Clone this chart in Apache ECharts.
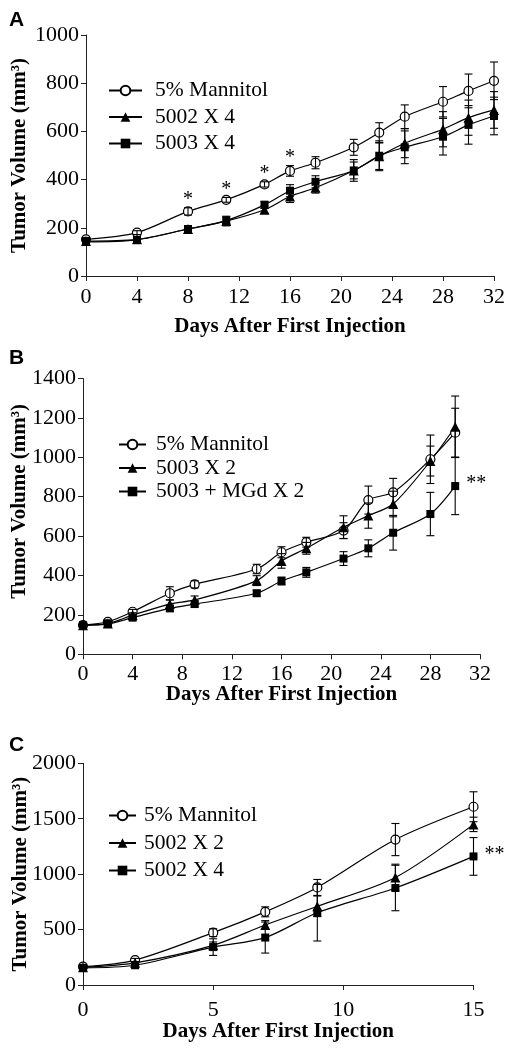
<!DOCTYPE html>
<html>
<head>
<meta charset="utf-8">
<script src="https://cdn.jsdelivr.net/npm/echarts@6/dist/echarts.min.js"></script>
<style>html,body{margin:0;padding:0;background:#fff;}#c{width:514px;height:1050px;}</style>
</head>
<body>
<div id="c"></div>
<script>
// ---------- Panel A ----------
const daysA = [0, 4, 8, 11, 14, 16, 18, 21, 23, 25, 28, 30, 32];
const mannitolA = [152, 180, 268, 316, 380, 436, 470, 534, 595, 661, 723, 768, 810];
const mannitolAErr = [8, 8, 15, 10, 11, 22, 25, 33, 41, 49, 63, 70, 78];
const c5002x4A = [145, 152, 195, 228, 275, 330, 366, 438, 497, 551, 609, 657, 689];
const c5002x4AErr = [6, 8, 10, 20, 15, 25, 22, 35, 55, 60, 73, 73, 76];
const c5003x4A = [142, 150, 195, 230, 295, 354, 391, 438, 499, 534, 578, 627, 664];
const c5003x4AErr = [6, 8, 10, 15, 15, 25, 25, 45, 62, 68, 76, 80, 78];
const sigA = ['', '', '*', '*', '*', '*', '', '', '', '', '', '', ''];

// ---------- Panel B ----------
const daysB = [0, 2, 4, 7, 9, 14, 16, 18, 21, 23, 25, 28, 30];
const mannitolB = [148, 165, 216, 310, 355, 433, 518, 569, 628, 783, 822, 990, 1125];
const mannitolBErr = [8, 10, 12, 33, 18, 24, 28, 25, 40, 71, 71, 123, 124];
const c5003x2B = [148, 156, 199, 255, 276, 374, 474, 538, 645, 704, 763, 981, 1155];
const c5003x2BErr = [8, 10, 12, 20, 20, 25, 37, 30, 58, 64, 65, 76, 156];
const c5003mgdB = [148, 154, 186, 233, 255, 310, 372, 416, 486, 538, 617, 712, 854];
const c5003mgdBErr = [8, 10, 12, 15, 15, 15, 20, 25, 35, 43, 88, 110, 145];
const sigB = ['', '', '', '', '', '', '', '', '', '', '', '', '**'];

// ---------- Panel C ----------
const daysC = [0, 2, 5, 7, 9, 12, 15];
const mannitolC = [165, 225, 472, 660, 880, 1312, 1608];
const mannitolCErr = [15, 15, 35, 45, 72, 145, 135];
const c5002x2C = [160, 200, 358, 541, 710, 970, 1449];
const c5002x2CErr = [10, 12, 30, 40, 93, 120, 65];
const c5002x4C = [155, 178, 342, 428, 652, 875, 1160];
const c5002x4CErr = [15, 15, 75, 140, 255, 205, 170];
const sigC = ['', '', '', '', '', '', '**'];

const SERIF = '"Liberation Serif", "Times New Roman", serif';
const SANS = '"Liberation Sans", Arial, sans-serif';
const chart = echarts.init(document.getElementById('c'), null, {renderer: 'canvas'});

function makeSeries(panel, gi, name, days, vals, errs, kind, sig, sigPos) {
  const sym = kind === 'open' ? 'circle' : (kind === 'tri' ? 'triangle' : 'rect');
  const line = {
    type: 'line', name: panel + '|' + name, xAxisIndex: gi, yAxisIndex: gi,
    data: days.map((d, i) => [d, vals[i]]),
    symbol: sym, symbolSize: kind === 'tri' ? 10 : (kind === 'open' ? 9 : 8),
    showSymbol: true, smooth: 0.3,
    lineStyle: {color: '#000', width: 1.2},
    itemStyle: kind === 'open' ? {color: '#fff', borderColor: '#000', borderWidth: 1.2}
                               : {color: '#000', borderColor: '#000', borderWidth: 0},
    z: 3, animation: false, silent: true
  };
  const err = {
    type: 'custom', name: panel + '|' + name + '|err', xAxisIndex: gi, yAxisIndex: gi,
    data: days.map((d, i) => [d, vals[i] - errs[i], vals[i] + errs[i], vals[i]]),
    z: 4, animation: false, silent: true, clip: false,
    renderItem: function (params, api) {
      const x = api.value(0), lo = api.value(1), hi = api.value(2), v = api.value(3);
      const t = api.coord([x, hi]), b = api.coord([x, lo]);
      const c = 4;
      const st = {stroke: '#000', lineWidth: 1.1};
      const children = [
        {type: 'line', shape: {x1: t[0], y1: t[1], x2: b[0], y2: b[1]}, style: st},
        {type: 'line', shape: {x1: t[0] - c, y1: t[1], x2: t[0] + c, y2: t[1]}, style: st},
        {type: 'line', shape: {x1: b[0] - c, y1: b[1], x2: b[0] + c, y2: b[1]}, style: st}
      ];
      const s = sig ? sig[params.dataIndex] : '';
      if (s) {
        if (sigPos === 'top') {
          children.push({type: 'text', x: t[0], y: t[1] + 2,
            style: {text: s, align: 'center', verticalAlign: 'bottom', font: '20px ' + SERIF, fill: '#000'}});
        } else {
          const p = api.coord([x, v]);
          children.push({type: 'text', x: p[0] + 11, y: p[1] - 2,
            style: {text: s, align: 'left', verticalAlign: 'middle', font: '20px ' + SERIF, fill: '#000'}});
        }
      }
      return {type: 'group', children: children};
    }
  };
  return [line, err];
}

const series = [].concat(
  makeSeries('A', 0, '5% Mannitol', daysA, mannitolA, mannitolAErr, 'open', sigA, 'top'),
  makeSeries('A', 0, '5002 X 4', daysA, c5002x4A, c5002x4AErr, 'tri'),
  makeSeries('A', 0, '5003 X 4', daysA, c5003x4A, c5003x4AErr, 'sq'),
  makeSeries('B', 1, '5% Mannitol', daysB, mannitolB, mannitolBErr, 'open'),
  makeSeries('B', 1, '5003 X 2', daysB, c5003x2B, c5003x2BErr, 'tri'),
  makeSeries('B', 1, '5003 + MGd X 2', daysB, c5003mgdB, c5003mgdBErr, 'sq', sigB, 'right'),
  makeSeries('C', 2, '5% Mannitol', daysC, mannitolC, mannitolCErr, 'open'),
  makeSeries('C', 2, '5002 X 2', daysC, c5002x2C, c5002x2CErr, 'tri'),
  makeSeries('C', 2, '5002 X 4', daysC, c5002x4C, c5002x4CErr, 'sq', sigC, 'right')
);

const axisLine = {show: true, lineStyle: {color: '#222', width: 1}};
const axisTick = {show: true, length: 5, lineStyle: {color: '#222', width: 1}};
const labelStyle = {fontFamily: SERIF, fontSize: 22, color: '#000', formatter: v => String(v)};
const nameStyle = {fontFamily: SERIF, fontSize: 21, fontWeight: 'bold', color: '#000'};

function xAx(gi, max, interval, margin, gap) {
  return {type: 'value', gridIndex: gi, min: 0, max: max, interval: interval,
    axisLine: axisLine, axisTick: axisTick, splitLine: {show: false},
    axisLabel: Object.assign({margin: margin}, labelStyle),
    name: 'Days After First Injection', nameLocation: 'middle', nameGap: gap,
    nameMoveOverlap: false, nameTextStyle: nameStyle};
}
function yAx(gi, max, interval, gap, pad) {
  return {type: 'value', gridIndex: gi, min: 0, max: max, interval: interval,
    axisLine: axisLine, axisTick: axisTick, splitLine: {show: false},
    axisLabel: Object.assign({margin: 7}, labelStyle),
    name: 'Tumor Volume (mm³)', nameLocation: 'middle', nameGap: gap,
    nameMoveOverlap: false,
    nameTextStyle: Object.assign({padding: pad || 0}, nameStyle)};
}

function legendFor(panel, names, left, top, width, gap, pad) {
  return {
    orient: 'vertical', left: left, top: top, padding: 0, itemGap: gap,
    itemWidth: width, itemHeight: 12, selectedMode: false,
    data: names.map(n => panel + '|' + n),
    formatter: n => n.split('|')[1],
    textStyle: {fontFamily: SERIF, fontSize: 21.5, color: '#000', lineHeight: 21, padding: [0, 0, 0, pad]}
  };
}

const letterStyle = {fontFamily: SANS, fontWeight: 'bold', fontSize: 21, color: '#000'};
chart.setOption({
  backgroundColor: '#fff',
  animation: false,
  title: [
    {text: 'A', left: 9, top: 10, padding: 0, textStyle: letterStyle},
    {text: 'B', left: 9, top: 348, padding: 0, textStyle: letterStyle},
    {text: 'C', left: 9, top: 735, padding: 0, textStyle: letterStyle}
  ],
  legend: [
    legendFor('A', ['5% Mannitol', '5002 X 4', '5003 X 4'], 108, 79.5, 33, 4.5, 8),
    legendFor('B', ['5% Mannitol', '5003 X 2', '5003 + MGd X 2'], 118, 433.5, 27, 1.5, 5),
    legendFor('C', ['5% Mannitol', '5002 X 2', '5002 X 4'], 108, 804.5, 27, 5.5, 3)
  ],
  grid: [
    {left: 86, top: 35, width: 408, height: 241, containLabel: false, outerBoundsMode: 'none'},
    {left: 83, top: 378.5, width: 397, height: 275.8, containLabel: false, outerBoundsMode: 'none'},
    {left: 83, top: 763.3, width: 390.5, height: 221.7, containLabel: false, outerBoundsMode: 'none'}
  ],
  xAxis: [
    xAx(0, 32, 4, 10, 40),
    xAx(1, 32, 4, 8.5, 30),
    xAx(2, 15, 5, 14, 36)
  ],
  yAxis: [
    yAx(0, 1000, 200, 56),
    yAx(1, 1400, 200, 53, [0, 0, 0, 30]),
    yAx(2, 2000, 500, 52)
  ],
  series: series
});
</script>
</body>
</html>
